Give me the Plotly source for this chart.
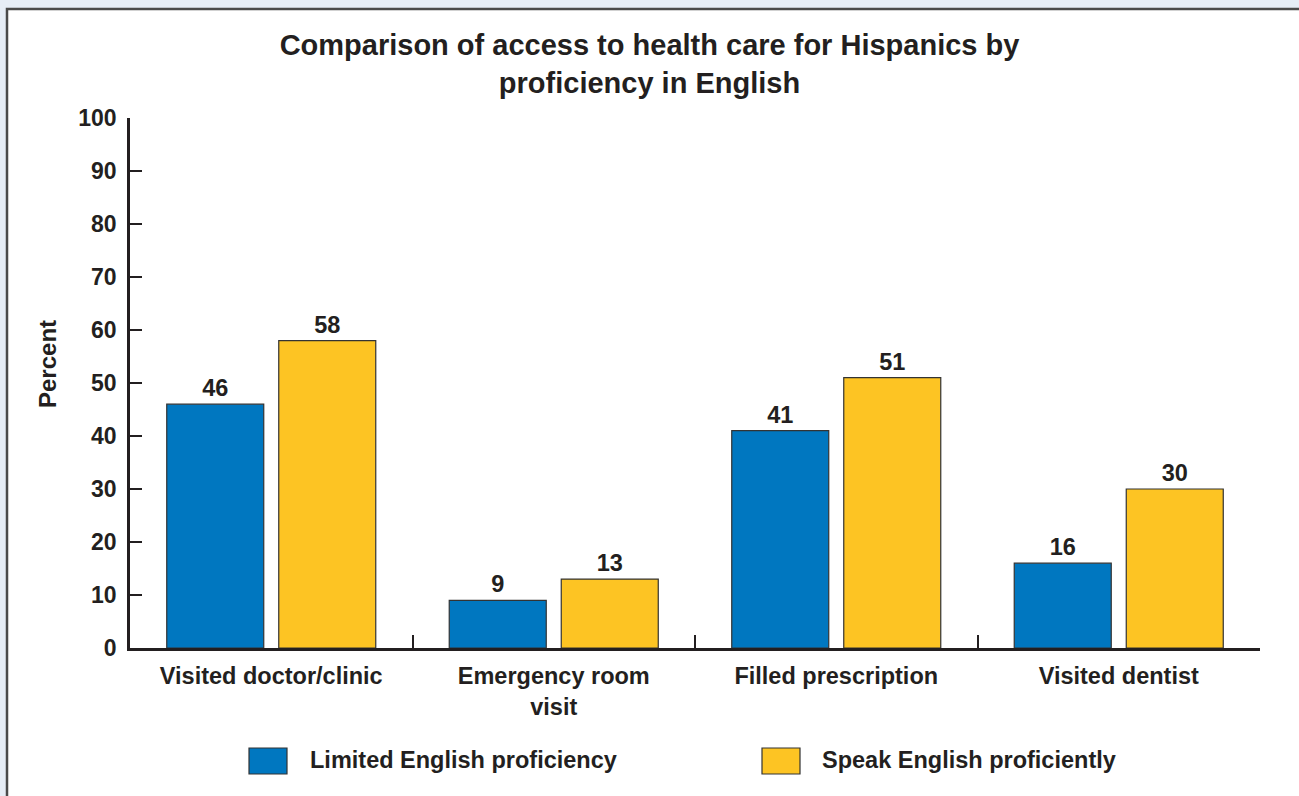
import plotly.graph_objects as go

categories = ["Visited doctor/clinic", "Emergency room<br>visit", "Filled prescription", "Visited dentist"]
limited = [46, 9, 41, 16]
proficient = [58, 13, 51, 30]
series_names = ["Limited English proficiency", "Speak English proficiently"]
colors = ["#0077C0", "#FDC423"]
y_ticks = [0, 10, 20, 30, 40, 50, 60, 70, 80, 90, 100]

W, H = 1299, 796
L, R, T, B = 130, 39, 118, 148
pw, ph = W - L - R, H - T - B

def px_x(px):
    return (px - L) / pw

def px_y(py):
    return (H - B - py) / ph

FONT = "Liberation Sans, Arial, sans-serif"
DARK = "#231F20"

def bfont(size):
    return dict(family=FONT, size=size, color=DARK, weight="bold")

fig = go.Figure()
for name, vals, col in zip(series_names, [limited, proficient], colors):
    fig.add_trace(go.Bar(
        x=categories, y=vals, name=name,
        marker=dict(color=col, line=dict(color="#333333", width=1.2)),
        text=[str(v) for v in vals], textposition="outside",
        textfont=bfont(23.5), constraintext="none",
        cliponaxis=False, showlegend=False,
    ))

shapes = [
    dict(type="rect", xref="paper", yref="paper", layer="below",
         x0=px_x(7), x1=px_x(1320), y0=px_y(9), y1=px_y(820),
         fillcolor="white", line=dict(color="#4A4A4A", width=2.5)),
]
annotations = [
    dict(text="Percent", xref="paper", yref="paper", x=px_x(47), y=px_y(364),
         textangle=-90, showarrow=False, font=bfont(24),
         xanchor="center", yanchor="middle"),
]
legend_boxes = [(249, 287), (762, 800)]
legend_text_x = [308, 820]
for (x0, x1), tx, name, col in zip(legend_boxes, legend_text_x, series_names, colors):
    shapes.append(dict(type="rect", xref="paper", yref="paper",
                       x0=px_x(x0), x1=px_x(x1), y0=px_y(748), y1=px_y(774),
                       fillcolor=col, line=dict(color="#333333", width=1.2)))
    annotations.append(dict(text=name, xref="paper", yref="paper",
                            x=px_x(tx), y=px_y(760), xanchor="left", yanchor="middle",
                            showarrow=False, font=bfont(23.5)))

fig.update_layout(
    width=W, height=H,
    margin=dict(l=L, r=R, t=T, b=B, pad=0),
    paper_bgcolor="#E6EDF6", plot_bgcolor="rgba(0,0,0,0)",
    barmode="group", bargap=0.207, bargroupgap=0.134,
    title=dict(text="Comparison of access to health care for Hispanics by<br>proficiency in English",
               x=0.5, xref="container", xanchor="center",
               y=1 - 55 / H, yref="container", yanchor="middle",
               font=bfont(29)),
    xaxis=dict(showline=True, linecolor=DARK, linewidth=2.5, ticks="inside",
               tickson="boundaries", ticklen=13, tickwidth=2, tickcolor=DARK,
               tickfont=bfont(23.5),
               showgrid=False, zeroline=False, fixedrange=True,
               ticklabelstandoff=5),
    yaxis=dict(range=[0, 100], tickvals=y_ticks, showline=True, linecolor=DARK,
               linewidth=2.5, ticks="inside", ticklen=12, tickwidth=2, tickcolor=DARK,
               tickfont=bfont(23),
               showgrid=False, zeroline=False, ticklabelstandoff=6),
    shapes=shapes, annotations=annotations,
    font=dict(family=FONT, color=DARK),
)

fig.write_html("out.html")
